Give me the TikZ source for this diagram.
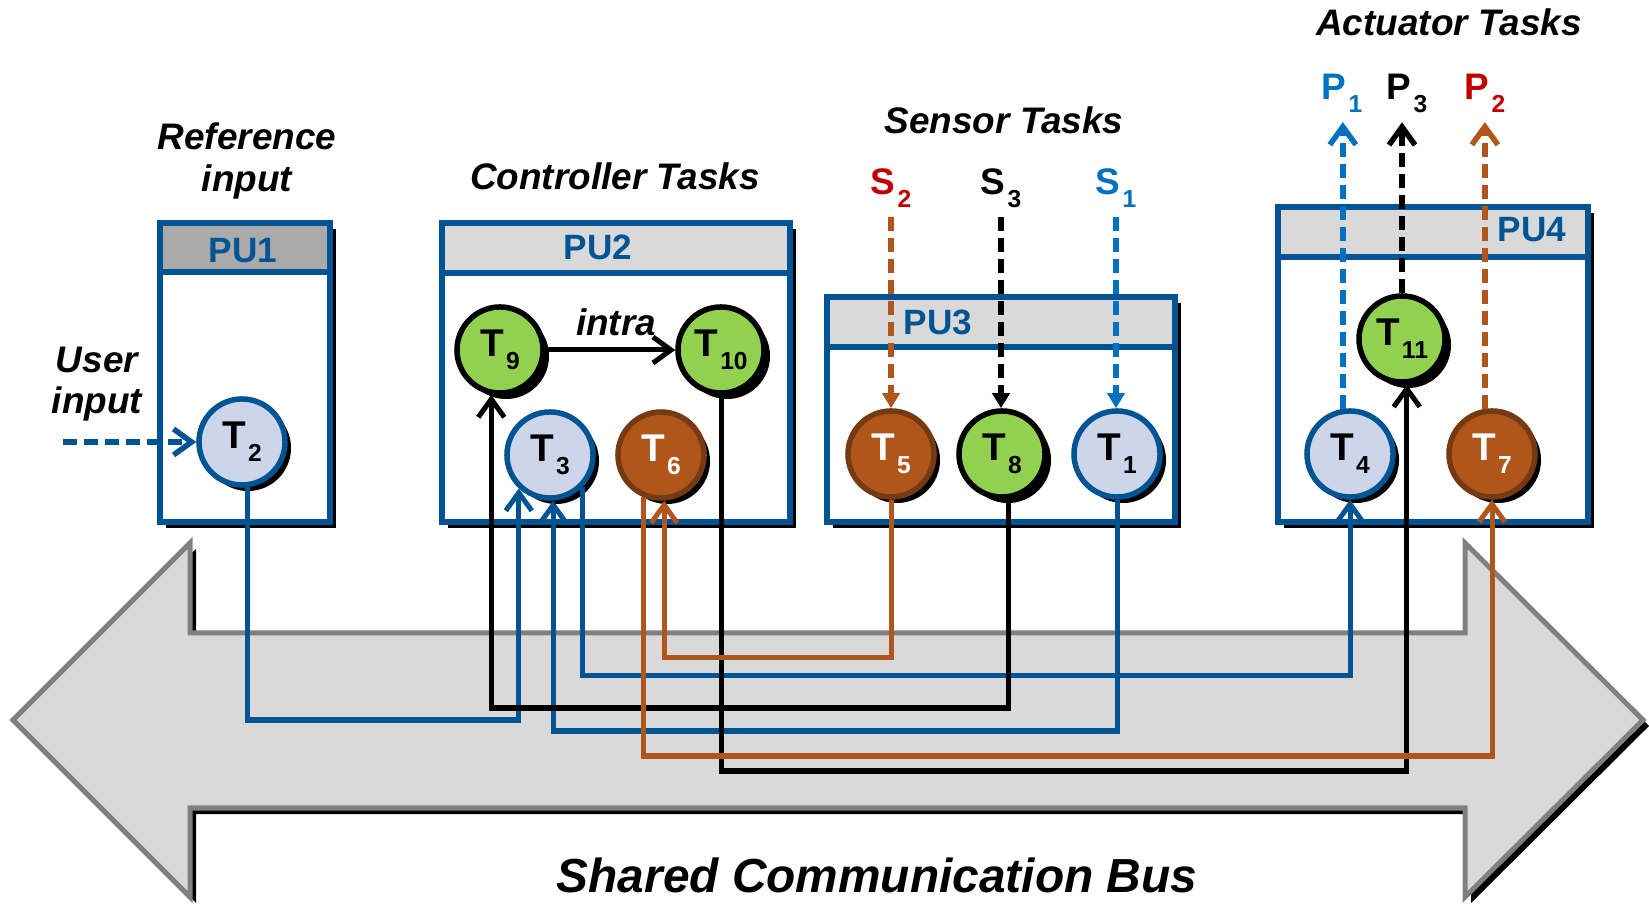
\documentclass[tikz,border=0pt]{standalone}
\usepackage{fontspec}
\setmainfont{Liberation Sans}
\usetikzlibrary{arrows.meta,shadows,calc,positioning}

\definecolor{publue}{RGB}{0,84,147}
\definecolor{tblue}{RGB}{204,213,233}
\definecolor{tgreen}{RGB}{146,208,80}
\definecolor{tbrown}{RGB}{176,86,26}
\definecolor{tbrowndark}{RGB}{118,58,18}
\definecolor{sblue}{RGB}{0,112,192}
\definecolor{sred}{RGB}{192,0,0}
\definecolor{hdgray}{RGB}{217,217,217}
\definecolor{hdgraydark}{RGB}{170,170,170}
\definecolor{busedge}{RGB}{128,128,128}

\newcommand{\sublbl}[2]{#1\kern0.06em\raisebox{-0.34em}{\fontsize{7}{7}\selectfont #2}}
\newcommand{\buspath}{(13,720) -- (190,543) -- (190,633) -- (1465,633) -- (1465,543) -- (1643,720)
   -- (1465,897) -- (1465,808) -- (190,808) -- (190,897) -- cycle}

\begin{document}
\begin{tikzpicture}[x=0.01cm,y=-0.01cm,
       >={Straight Barb[length=0.18cm,width=0.26cm]},
       task/.style={circle,minimum size=0.86cm,inner sep=0pt,line width=0.055cm,
           font=\fontsize{11}{11}\selectfont\bfseries,
           drop shadow={shadow xshift=0.06cm,shadow yshift=-0.06cm,fill=black,opacity=1}},
       ctask/.style={task,draw=publue,fill=tblue},
       gtask/.style={task,draw=black,fill=tgreen},
       btask/.style={task,draw=tbrowndark,fill=tbrown,text=white},
       pubox/.style={draw=publue,line width=0.055cm},
       pulabel/.style={anchor=base,text=publue,font=\fontsize{10}{10}\selectfont\bfseries},
       tasktitle/.style={align=center,inner sep=0pt,font=\fontsize{10.5}{11.8}\selectfont\bfseries\itshape},
       sig/.style={anchor=base,inner sep=2.5pt,font=\fontsize{10.5}{10.5}\selectfont\bfseries},
       link/.style={line width=0.05cm,->},
       extio/.style={line width=0.055cm,dash pattern=on 0.14cm off 0.07cm}]
       \useasboundingbox (0,0) rectangle (1649,904);
       % bus
       \fill[black,shift={(6,6)}] \buspath;
       \draw[busedge,fill=hdgray,line width=0.05cm] \buspath;
       \node[anchor=base,font=\fontsize{13.6}{13.6}\selectfont\bfseries\itshape] (bus) at (877,892) {Shared Communication Bus};
       % processing units
       \fill (166,229) rectangle (336,528);
       \draw[pubox,fill=white] (160,223) rectangle (330,522);
       \draw[pubox,fill=hdgraydark] (160,223) rectangle (330,272);
       \fill (448,229) rectangle (796,528);
       \draw[pubox,fill=white] (442,223) rectangle (790,522);
       \draw[pubox,fill=hdgray] (442,223) rectangle (790,273);
       \fill (833,303) rectangle (1181,528);
       \draw[pubox,fill=white] (827,297) rectangle (1175,522);
       \draw[pubox,fill=hdgray] (827,297) rectangle (1175,347);
       \fill (1284,213) rectangle (1594,528);
       \draw[pubox,fill=white] (1278,207) rectangle (1588,522);
       \draw[pubox,fill=hdgray] (1278,207) rectangle (1588,257);
       \node[pulabel] (PU1) at (243,263) {PU1};
       \node[pulabel] (PU2) at (598,260) {PU2};
       \node[pulabel] (PU3) at (938,335) {PU3};
       \node[pulabel] (PU4) at (1532,242) {PU4};
       % titles
       \node[tasktitle] (reftitle) at (247,161) {Reference\\input};
       \node[tasktitle] (usertitle) at (97,384) {User\\input};
       \node[tasktitle,anchor=base] (ctltitle) at (615,190) {Controller Tasks};
       \node[tasktitle,anchor=base] (senstitle) at (1004,134) {Sensor Tasks};
       \node[tasktitle,anchor=base] (acttitle) at (1449,36) {Actuator Tasks};
       % tasks
       \node[ctask] (T2) at (242,442) {\sublbl{T}{2}};
       \node[gtask] (T9) at (500,350) {\sublbl{T}{9}};
       \node[gtask] (T10) at (721,350) {\sublbl{T}{10}};
       \node[ctask] (T3) at (550,455) {\sublbl{T}{3}};
       \node[btask] (T6) at (661,455) {\sublbl{T}{6}};
       \node[btask] (T5) at (891,454) {\sublbl{T}{5}};
       \node[gtask] (T8) at (1002,454) {\sublbl{T}{8}};
       \node[ctask] (T1) at (1117,454) {\sublbl{T}{1}};
       \node[ctask] (T4) at (1350,454) {\sublbl{T}{4}};
       \node[gtask] (T11) at (1402,339) {\sublbl{T}{11}};
       \node[btask] (T7) at (1492,454) {\sublbl{T}{7}};
       % sensors and actuators
       \node[sig,text=sred] (S2) at (891,195) {\sublbl{S}{2}};
       \node[sig] (S3) at (1001,195) {\sublbl{S}{3}};
       \node[sig,text=sblue] (S1) at (1116,195) {\sublbl{S}{1}};
       \node[sig,text=sblue] (P1) at (1342,100) {\sublbl{P}{1}};
       \node[sig] (P3) at (1407,100) {\sublbl{P}{3}};
       \node[sig,text=sred] (P2) at (1485,100) {\sublbl{P}{2}};
       % bus levels
       \coordinate (L1) at (0,658);
       \coordinate (L2) at (0,676);
       \coordinate (L3) at (0,708);
       \coordinate (L4) at (0,720);
       \coordinate (L5) at (0,731);
       \coordinate (L6) at (0,756);
       \coordinate (L7) at (0,771);
       \draw[link,publue] (T2.277) -- (T2.277 |- L4) -| (T3.227);
       \draw[link,publue] (T1.south) -- (T1.south |- L5) -| (T3.274);
       \draw[link,publue] (T3.316) -- (T3.316 |- L2) -| (T4.south);
       \draw[link] (T8.278) -- (T8.278 |- L3) -| (T9.259);
       \draw[link] (T10.south) -- (T10.south |- L7) -| (T11.276);
       \draw[link,tbrown] (T5.south) -- (T5.south |- L1) -| (T6.274);
       \draw[link,tbrown] (T6.248) -- (T6.248 |- L6) -| (T7.south);
       % intra
       \draw[link] (T9) -- (T10);
       \node[anchor=base,font=\fontsize{10.5}{10.5}\selectfont\bfseries\itshape] (intra) at (616,336) {intra};
       % inputs and outputs
       \coordinate (UI) at (63,442);
       \draw[extio,publue,->] (UI) -- (T2.west);
       \draw[extio,tbrown,-{Triangle[length=0.15cm,width=0.17cm]}] (S2.south) -- (S2.south |- T5.north);
       \draw[extio,-{Triangle[length=0.15cm,width=0.17cm]}] (S3.south) -- (S3.south |- T8.north);
       \draw[extio,sblue,-{Triangle[length=0.15cm,width=0.17cm]}] (S1.south) -- (S1.south |- T1.north);
       \draw[extio,sblue,->] (T4.99) -- (T4.99 |- P1.south);
       \draw[extio,->] (T11.north) -- (T11.north |- P3.south);
       \draw[extio,tbrown,->] (T7.99) -- (T7.99 |- P2.south);
\end{tikzpicture}
\end{document}
